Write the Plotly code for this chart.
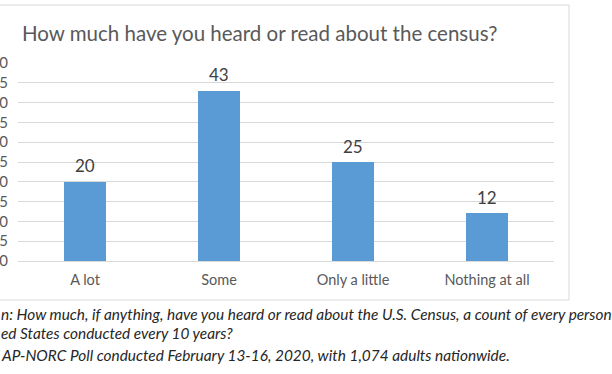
import plotly.graph_objects as go

categories = ["A lot", "Some", "Only a little", "Nothing at all"]
values = [20, 43, 25, 12]
y_ticks = [0, 5, 10, 15, 20, 25, 30, 35, 40, 45, 50]
title_text = "How much have you heard or read about the census?"
note_lines = [
    "n: How much, if anything, have you heard or read about the U.S. Census, a count of every person",
    "ed States conducted every 10 years?",
    "AP-NORC Poll conducted February 13-16, 2020, with 1,074 adults nationwide.",
]

FONT = "Lato"
W, H = 612, 374
L, R, T, B = 18, 58, 63, 113
pw, ph = W - L - R, H - T - B

def px_x(p):
    return (p - L) / pw

def px_y(p):
    return (H - B - p) / ph

fig = go.Figure()
fig.add_trace(go.Bar(
    x=categories, y=values, width=0.313,
    marker=dict(color="#5b9bd5", line=dict(width=0)),
    hoverinfo="skip",
))

annotations = []
for c, v in zip(categories, values):
    annotations.append(dict(
        x=c, y=v, xref="x", yref="y", text=str(v), showarrow=False,
        yanchor="middle", yshift=16,
        font=dict(family=FONT, size=17, color="#404040"),
    ))

annotations.append(dict(
    x=px_x(20), y=px_y(33), xref="paper", yref="paper", text=title_text,
    showarrow=False, xanchor="left", yanchor="middle",
    font=dict(family=FONT, size=20.5, color="#595959"),
))

note_y = [314, 333, 355]
for line, py in zip(note_lines, note_y):
    annotations.append(dict(
        x=px_x(-1), y=px_y(py), xref="paper", yref="paper",
        text="<i>" + line + "</i>", showarrow=False,
        xanchor="left", yanchor="middle",
        font=dict(family=FONT, size=15.4, color="#262626"),
    ))

fig.update_layout(
    width=W, height=H,
    margin=dict(l=L, r=R, t=T, b=B, pad=0),
    paper_bgcolor="white", plot_bgcolor="white",
    showlegend=False,
    template="none",
    annotations=annotations,
    shapes=[dict(
        type="rect", xref="paper", yref="paper",
        x0=px_x(-30), x1=px_x(569), y0=px_y(300), y1=px_y(5),
        line=dict(color="#d9d9d9", width=1), fillcolor="rgba(0,0,0,0)",
        layer="below",
    )],
    xaxis=dict(
        showgrid=False, zeroline=False, showline=True,
        linecolor="#d9d9d9", linewidth=1, ticks="",
        tickfont=dict(family=FONT, size=14.5, color="#595959"),
        ticklabelstandoff=6, automargin=False, fixedrange=True,
    ),
    yaxis=dict(
        range=[0, 50], tickvals=y_ticks,
        showgrid=True, gridcolor="#d9d9d9", gridwidth=1,
        zeroline=False, showline=False, ticks="",
        tickfont=dict(family=FONT, size=15, color="#595959"),
        ticklabelstandoff=9, automargin=False, fixedrange=True,
    ),
    bargap=0,
)

fig.write_html(
    "out.html",
    config={"displayModeBar": False},
    post_script="document.body.style.margin='0';document.body.style.overflow='hidden';",
)
